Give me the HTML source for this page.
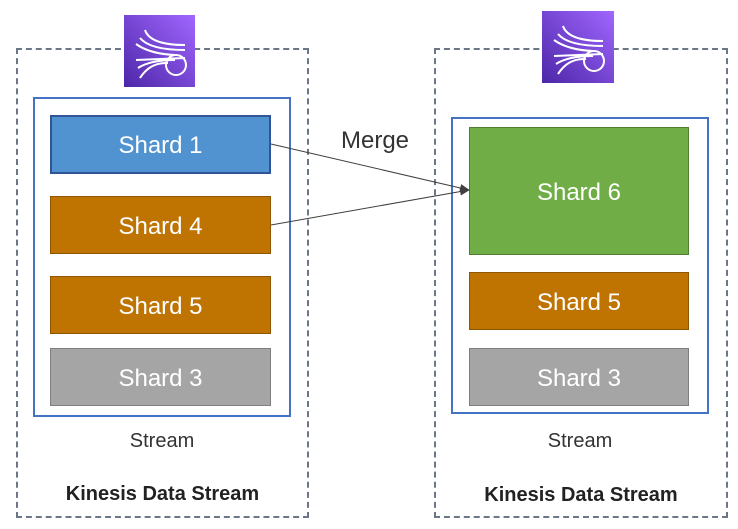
<!DOCTYPE html>
<html><head><style>
body{margin:0;width:738px;height:529px;background:#fff;position:relative;overflow:hidden;font-family:"Liberation Sans",sans-serif}
.a{position:absolute;box-sizing:border-box}
.dash{border:2px dashed #6b7787}
.inner{border:2px solid #4472c4;background:#fff}
.sh{color:#fff;font-size:24px;display:flex;align-items:center;justify-content:center;padding-top:3px}
.t{position:absolute;text-align:center;color:#333}
.icon{background:linear-gradient(225deg,#a166ff,#4d27a8)}
</style></head><body>
<div class="a dash" style="left:16px;top:48px;width:293px;height:470px"></div>
<div class="a dash" style="left:434px;top:48px;width:294px;height:470px"></div>
<div class="a inner" style="left:33px;top:97px;width:258px;height:320px"></div>
<div class="a inner" style="left:451px;top:117px;width:258px;height:297px"></div>
<div class="a sh" style="left:50px;top:115px;width:221px;height:59px;background:#5093d0;border:2px solid #2f5597">Shard 1</div>
<div class="a sh" style="left:50px;top:196px;width:221px;height:58px;background:#bf7300;border:1px solid #8f5600">Shard 4</div>
<div class="a sh" style="left:50px;top:276px;width:221px;height:58px;background:#bf7300;border:1px solid #8f5600">Shard 5</div>
<div class="a sh" style="left:50px;top:348px;width:221px;height:58px;background:#a5a5a5;border:1px solid #7f7f7f">Shard 3</div>
<div class="a sh" style="left:469px;top:127px;width:220px;height:128px;background:#70ad47;border:1px solid #507e32">Shard 6</div>
<div class="a sh" style="left:469px;top:272px;width:220px;height:58px;background:#bf7300;border:1px solid #8f5600">Shard 5</div>
<div class="a sh" style="left:469px;top:348px;width:220px;height:58px;background:#a5a5a5;border:1px solid #7f7f7f">Shard 3</div>
<div class="t" style="left:33px;width:258px;top:430px;font-size:20px">Stream</div>
<div class="t" style="left:451px;width:258px;top:430px;font-size:20px">Stream</div>
<div class="t" style="left:16px;width:293px;top:483px;font-size:20px;font-weight:bold;color:#222">Kinesis Data Stream</div>
<div class="t" style="left:434px;width:294px;top:484px;font-size:20px;font-weight:bold;color:#222">Kinesis Data Stream</div>
<div class="t" style="left:330px;width:90px;top:127px;font-size:24px">Merge</div>
<div class="a icon" style="left:124px;top:15px;width:71px;height:72px"></div>
<div class="a icon" style="left:542px;top:11px;width:72px;height:72px"></div>
<svg class="a" style="left:0;top:0" width="738" height="529">
<g fill="none" stroke="#fff" stroke-width="2">
<path d="M145 30 Q150 45 185 45 M140 38 Q150 50 185 50 M136 44 Q150 54 175 55 M136 60 L185 58 M138 68 Q150 60 175 60 M140 78 Q150 62 168 63"/>
<circle cx="176" cy="65" r="10"/>
<path d="M563 26 Q568 41 603 41 M558 34 Q568 46 603 46 M554 40 Q568 50 593 51 M554 56 L603 54 M556 64 Q568 56 593 56 M558 74 Q568 58 586 59"/>
<circle cx="594" cy="61" r="10"/>
</g>
<defs><marker id="m" markerWidth="10" markerHeight="8" refX="9" refY="4" orient="auto" markerUnits="userSpaceOnUse"><path d="M0 0L10 4L0 8z" fill="#404040"/></marker></defs>
<line x1="271" y1="144" x2="469" y2="190" stroke="#404040" stroke-width="1" marker-end="url(#m)"/>
<line x1="271" y1="225" x2="469" y2="190" stroke="#404040" stroke-width="1" marker-end="url(#m)"/>
</svg>
</body></html>
